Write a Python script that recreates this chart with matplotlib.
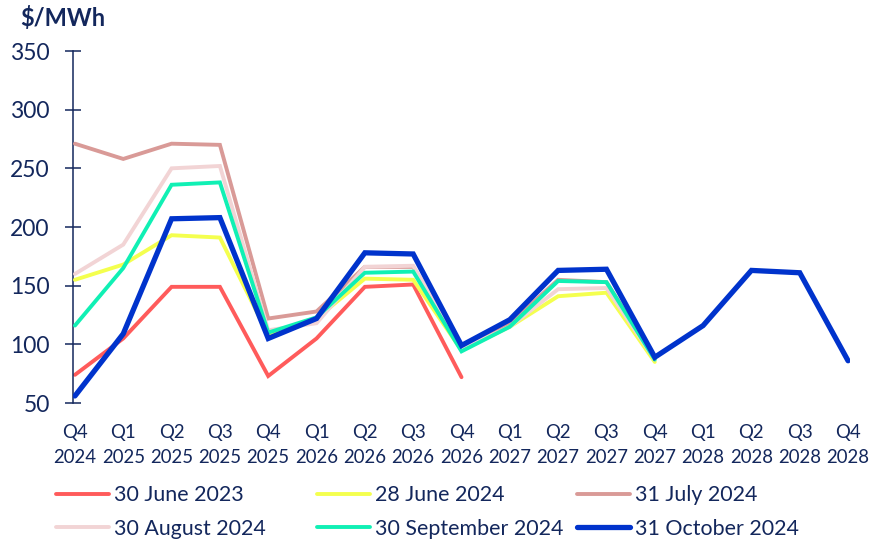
import matplotlib
matplotlib.use("Agg")
import matplotlib.pyplot as plt

plt.rcParams['font.family'] = ['Lato', 'DejaVu Sans']

categories = ["Q4\n2024", "Q1\n2025", "Q2\n2025", "Q3\n2025", "Q4\n2025",
              "Q1\n2026", "Q2\n2026", "Q3\n2026", "Q4\n2026",
              "Q1\n2027", "Q2\n2027", "Q3\n2027", "Q4\n2027",
              "Q1\n2028", "Q2\n2028", "Q3\n2028", "Q4\n2028"]

june_2023 = [74, 105, 149, 149, 73, 105, 149, 151, 72]
june_2024 = [155, 168, 193, 191, 108, 122, 156, 155, 95, 115, 141, 144, 85]
july_2024 = [271, 258, 271, 270, 122, 128, 166, 166, 98, 118, 155, 153, 88]
august_2024 = [160, 185, 250, 252, 112, 118, 166, 167, 96, 115, 147, 148, 87]
september_2024 = [116, 165, 236, 238, 110, 123, 161, 162, 94, 115, 154, 153, 87]
october_2024 = [56, 109, 207, 208, 105, 122, 178, 177, 99, 121, 163, 164, 89,
                116, 163, 161, 86]

series_labels = ["30 June 2023", "28 June 2024", "31 July 2024",
                 "30 August 2024", "30 September 2024", "31 October 2024"]
series_values = [june_2023, june_2024, july_2024, august_2024,
                 september_2024, october_2024]
colors = ["#FF5B5B", "#F4FF4E", "#D99A97", "#F2D4D5", "#10F0B4", "#0033CC"]
widths = [2.8, 2.8, 2.8, 2.8, 2.8, 3.8]

navy = "#13275C"

fig = plt.figure(figsize=(8.7, 5.39), dpi=100)
ax = fig.add_axes([73 / 870, 1 - 403 / 539, 777 / 870, (403 - 51) / 539])

lines = []
for i, (lab, vals, c, w) in enumerate(zip(series_labels, series_values, colors, widths)):
    ln, = ax.plot(range(len(vals)), vals, color=c, lw=w, label=lab,
                  solid_joinstyle='miter', solid_capstyle='round', zorder=2 + i)
    lines.append(ln)

ax.set_xlim(-0.04, 16.04)
ax.set_ylim(50, 350)
ax.set_yticks([50, 100, 150, 200, 250, 300, 350])
ax.set_xticks(range(len(categories)))
ax.set_xticklabels(categories, fontsize=13.4, color=navy, linespacing=1.6)
for s in ['top', 'right', 'bottom']:
    ax.spines[s].set_visible(False)
ax.spines['left'].set_color(navy)
ax.spines['left'].set_linewidth(1.1)
ax.tick_params(axis='y', direction='inout', length=11.5, width=1.1,
               color=navy, labelcolor=navy, labelsize=16.5, pad=11)
ax.tick_params(axis='x', length=0, pad=15)

fig.text(20 / 870, 1 - 18 / 539, "$/MWh", fontsize=17, fontweight='bold',
         color=navy, ha='left', va='center')

col_x = [56, 317, 577]
cols = [(0, 3), (1, 4), (2, 5)]
for x, (a, b) in zip(col_x, cols):
    leg = fig.legend([lines[a], lines[b]], [series_labels[a], series_labels[b]],
                     loc='center left', bbox_to_anchor=(x / 870, 1 - 512 / 539),
                     frameon=False, fontsize=15.4, handlelength=2.5,
                     handletextpad=0.22, borderpad=0, borderaxespad=0,
                     labelspacing=0.62)
    for t in leg.get_texts():
        t.set_color(navy)

fig.savefig("out.png", dpi=100)
